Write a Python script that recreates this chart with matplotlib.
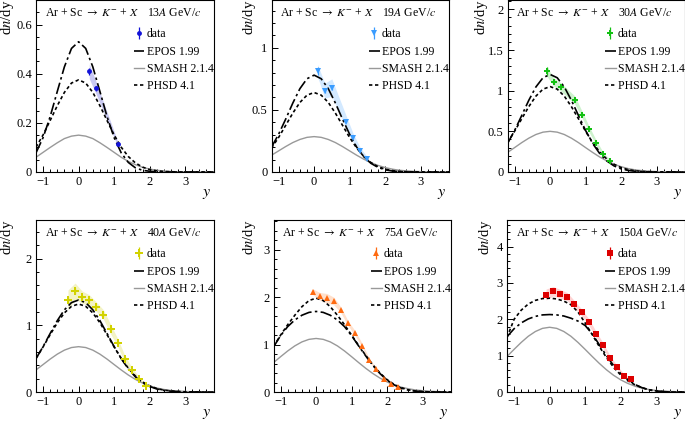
import matplotlib
matplotlib.use("Agg")
import matplotlib.pyplot as plt
from matplotlib.ticker import MultipleLocator, FuncFormatter

plt.rcParams['font.family'] = ['Liberation Serif', 'DejaVu Serif']
plt.rcParams['mathtext.fontset'] = 'stix'

# rapidity grid of the model curves
y_grid = [-1.2, -1.0, -0.8, -0.6, -0.4, -0.2, 0.0, 0.2, 0.4, 0.6, 0.8, 1.0, 1.2,
          1.4, 1.6, 1.8, 2.0, 2.2, 2.4, 2.6, 2.8, 3.0, 3.2, 3.4, 3.6, 3.8]

labels = ["13", "19", "30", "40", "75", "150"]

# 13A
x13 = [0.3, 0.5, 1.1]
d13 = [0.41, 0.34, 0.115]
stat13 = [0.015, 0.012, 0.006]
sys13 = [0.03, 0.025, 0.01]
epos13 = [.078, .140, .226, .328, .428, .503, .530, .503, .428, .328, .226, .140, .078,
          .039, .017, .007, .003, .001, 0, 0, 0, 0, 0, 0, 0, 0]
phsd13 = [.101, .151, .210, .270, .324, .362, .375, .362, .324, .270, .210, .151, .101,
          .063, .037, .020, .010, .005, .002, .001, 0, 0, 0, 0, 0, 0]
smash13 = [.060, .080, .100, .119, .136, .146, .150, .146, .136, .119, .100, .080, .060,
           .043, .030, .019, .012, .007, .004, .002, .001, 0, 0, 0, 0, 0]

# 19A
x19 = [0.1, 0.3, 0.5, 0.9, 1.1, 1.3, 1.5]
d19 = [0.815, 0.655, 0.68, 0.405, 0.275, 0.172, 0.105]
stat19 = [0.03, 0.02, 0.02, 0.01, 0.01, 0.008, 0.006]
sys19 = [0.05, 0.06, 0.07, 0.05, 0.035, 0.025, 0.015]
epos19 = [.200, .304, .426, .555, .671, .751, .780, .751, .671, .555, .426, .304, .200,
          .123, .070, .037, .018, .008, .003, .001, 0, 0, 0, 0, 0, 0]
phsd19 = [.193, .278, .376, .474, .560, .619, .640, .619, .560, .474, .376, .278, .193,
          .125, .076, .043, .023, .011, .005, .002, .001, 0, 0, 0, 0, 0]
smash19 = [.135, .170, .205, .237, .262, .279, .285, .279, .262, .237, .205, .170, .135,
           .103, .076, .053, .036, .023, .014, .009, .005, .003, .001, 0, 0, 0]

# 30A
x30 = [-0.1, 0.1, 0.3, 0.7, 0.9, 1.1, 1.3, 1.5, 1.7]
d30 = [1.244, 1.108, 1.047, 0.883, 0.707, 0.525, 0.36, 0.218, 0.132]
stat30 = [0.05, 0.02, 0.02, 0.02, 0.015, 0.015, 0.01, 0.01, 0.008]
sys30 = [0.06, 0.05, 0.05, 0.05, 0.04, 0.035, 0.03, 0.02, 0.015]
epos30 = [.350, .510, .694, .882, 1.046, 1.159, 1.200, 1.159, 1.046, .882, .694, .510, .350,
          .225, .135, .075, .039, .019, .009, .004, .001, 0, 0, 0, 0, 0]
phsd30 = [.361, .501, .654, .804, .933, 1.019, 1.050, 1.019, .933, .804, .654, .501, .361,
          .246, .158, .095, .054, .029, .015, .007, .003, .001, 0, 0, 0, 0]
smash30 = [.240, .300, .361, .416, .461, .490, .500, .490, .461, .416, .361, .300, .240,
           .184, .136, .096, .065, .042, .026, .016, .009, .005, .003, .001, 0, 0]

# 40A
x40 = [-0.3, -0.1, 0.1, 0.3, 0.5, 0.7, 0.9, 1.1, 1.3, 1.5, 1.7, 1.9]
d40 = [1.38, 1.515, 1.424, 1.379, 1.279, 1.162, 0.945, 0.742, 0.50, 0.329, 0.197, 0.09]
stat40 = [0.04, 0.04, 0.03, 0.03, 0.03, 0.03, 0.02, 0.02, 0.02, 0.015, 0.01, 0.01]
sys40 = [0.15, 0.12, 0.09, 0.08, 0.07, 0.07, 0.07, 0.06, 0.05, 0.04, 0.03, 0.02]
epos40 = [.501, .682, .879, 1.071, 1.233, 1.341, 1.380, 1.341, 1.233, 1.071, .879, .682, .501,
          .347, .227, .141, .083, .046, .024, .012, .006, .002, .001, 0, 0, 0]
phsd40 = [.505, .677, .861, 1.039, 1.187, 1.285, 1.320, 1.285, 1.187, 1.039, .861, .677, .505,
          .357, .239, .152, .092, .052, .028, .015, .007, .003, .001, 0, 0, 0]
smash40 = [.331, .412, .494, .568, .628, .667, .680, .667, .628, .568, .494, .412, .331,
           .255, .189, .135, .092, .060, .038, .023, .013, .008, .004, .002, .001, 0]

# 75A
x75 = [-0.1, 0.1, 0.3, 0.5, 0.7, 0.9, 1.1, 1.3, 1.5, 1.7, 1.9, 2.1, 2.3]
d75 = [2.12, 2.02, 1.98, 1.92, 1.73, 1.45, 1.24, 0.98, 0.67, 0.475, 0.28, 0.165, 0.10]
stat75 = [0.04, 0.03, 0.03, 0.03, 0.03, 0.03, 0.02, 0.02, 0.02, 0.015, 0.01, 0.01, 0.01]
sys75 = [0.06, 0.08, 0.10, 0.08, 0.06, 0.05, 0.05, 0.04, 0.03, 0.03, 0.02, 0.015, 0.01]
epos75 = [.95, 1.19, 1.38, 1.52, 1.62, 1.68, 1.70, 1.68, 1.62, 1.52, 1.38, 1.19, .97,
          .76, .56, .39, .25, .15, .08, .04, .018, .007, .002, 0, 0, 0]
phsd75 = [.96, 1.20, 1.42, 1.62, 1.80, 1.93, 1.98, 1.93, 1.80, 1.62, 1.42, 1.20, .98,
          .77, .57, .40, .26, .16, .09, .045, .02, .008, .003, 0, 0, 0]
smash75 = [.620, .745, .866, .973, 1.057, 1.111, 1.130, 1.111, 1.057, .973, .866, .745, .620,
           .499, .389, .293, .213, .150, .102, .068, .043, .027, .016, .009, .005, .003]

# 150A
x150 = [-0.1, 0.1, 0.3, 0.5, 0.7, 0.9, 1.1, 1.3, 1.5, 1.7, 1.9, 2.1, 2.3]
d150 = [2.68, 2.77, 2.70, 2.62, 2.41, 2.19, 1.93, 1.60, 1.29, 0.94, 0.68, 0.45, 0.35]
stat150 = [0.06, 0.05, 0.05, 0.05, 0.04, 0.04, 0.04, 0.03, 0.03, 0.03, 0.02, 0.02, 0.02]
sys150 = [0.15, 0.13, 0.12, 0.11, 0.10, 0.09, 0.09, 0.08, 0.07, 0.06, 0.05, 0.04, 0.03]
epos150 = [1.52, 1.74, 1.90, 2.01, 2.08, 2.12, 2.13, 2.12, 2.09, 2.03, 1.95, 1.83, 1.60,
           1.30, 1.00, .73, .51, .34, .21, .12, .06, .025, .01, 0, 0, 0]
phsd150 = [1.50, 2.00, 2.25, 2.42, 2.52, 2.57, 2.58, 2.56, 2.50, 2.40, 2.20, 1.90, 1.58,
           1.25, .95, .68, .47, .31, .20, .12, .06, .03, .01, 0, 0, 0]
smash150 = [.977, 1.173, 1.363, 1.533, 1.664, 1.750, 1.780, 1.750, 1.664, 1.533, 1.363, 1.173, .977,
            .787, .612, .461, .336, .237, .161, .106, .068, .042, .025, .014, .008, .004]

panels = [
    (x13, d13, stat13, sys13, epos13, smash13, phsd13),
    (x19, d19, stat19, sys19, epos19, smash19, phsd19),
    (x30, d30, stat30, sys30, epos30, smash30, phsd30),
    (x40, d40, stat40, sys40, epos40, smash40, phsd40),
    (x75, d75, stat75, sys75, epos75, smash75, phsd75),
    (x150, d150, stat150, sys150, epos150, smash150, phsd150),
]

colors = ['#1212d8', '#3a9cff', '#12c012', '#d2d200', '#ff6a10', '#dd0000']
bands = ['#c9c9f2', '#d3e9ff', '#cdf2cd', '#f3f3c4', '#ffe0cc', '#ffd2d2']
markers = ['o', 'v', 'P', 'P', '^', 's']
msizes = [3.5, 4, 5, 6, 4, 4.5]
ymax = [0.70, 1.385, 2.115, 2.58, 3.63, 4.73]
ymajor = [0.2, 0.5, 0.5, 1, 1, 1]
yminor = [0.05, 0.1, 0.1, 0.2, 0.2, 0.2]

# axes boxes in pixels: left, top ; y label offset in pixels
W, H = 685.0, 423.0
boxes = [(36, 0), (271.5, 0), (507.5, 0), (36, 220), (273.5, 220), (507, 220)]
ylab_dx = [-20, -14, -17, -20, -15, -13]
aw, ah = 177.5, 172.0

fig = plt.figure(figsize=(6.85, 4.23), dpi=100)

for i, (xd, yd, st, sy, ep, sm, ph) in enumerate(panels):
    l, t = boxes[i]
    ax = fig.add_axes([l / W, 1 - (t + ah) / H, aw / W, ah / H])

    lo = [v - e for v, e in zip(yd, sy)]
    hi = [v + e for v, e in zip(yd, sy)]
    ax.fill_between(xd, lo, hi, color=bands[i], lw=0, zorder=1)

    h_epos, = ax.plot(y_grid, ep, color='black', lw=1.2, ls=(0, (7, 2, 1.5, 2)), zorder=3)
    h_smash, = ax.plot(y_grid, sm, color='#999999', lw=1.0, zorder=2)
    h_phsd, = ax.plot(y_grid, ph, color='black', lw=1.2, ls=(0, (2, 1.6)), zorder=3)
    h_data = ax.errorbar(xd, yd, yerr=st, fmt=markers[i], color=colors[i], ms=msizes[i],
                         mew=0, elinewidth=0.9, capsize=1.5, zorder=4)

    ax.set_xlim(-1.2, 3.8)
    ax.set_ylim(0, ymax[i])
    ax.xaxis.set_major_locator(MultipleLocator(1))
    ax.xaxis.set_minor_locator(MultipleLocator(0.2))
    ax.yaxis.set_major_locator(MultipleLocator(ymajor[i]))
    ax.yaxis.set_minor_locator(MultipleLocator(yminor[i]))
    ax.yaxis.set_major_formatter(FuncFormatter(lambda v, p: '{:g}'.format(round(v, 3))))
    ax.xaxis.set_major_formatter(FuncFormatter(lambda v, p: '{:g}'.format(v).replace('-', '\u2212')))
    ax.tick_params(which='both', direction='in', labelsize=9, width=0.7, pad=3)
    ax.tick_params(which='major', length=4.5)
    ax.tick_params(which='minor', length=2.3)
    for s in ax.spines.values():
        s.set_linewidth(0.8)

    ax.text(0.05, 1 - 16 / ah, r'Ar + Sc $\rightarrow$ $K^{-}$ + $X$', transform=ax.transAxes,
            fontsize=8.5, va='baseline', ha='left')
    ax.text(0.625, 1 - 16 / ah, labels[i] + '$A$ GeV/$c$', transform=ax.transAxes,
            fontsize=8.5, va='baseline', ha='left')
    ax.text(0.985, -21 / ah, '$y$', transform=ax.transAxes, fontsize=11.5, ha='right', va='center')
    ax.set_ylabel('d$n$/dy', loc='top', fontsize=10.5)
    ax.yaxis.set_label_coords(ylab_dx[i] / aw, 1.0)

    ax.legend([h_data, h_epos, h_smash, h_phsd], ['data', 'EPOS 1.99', 'SMASH 2.1.4', 'PHSD 4.1'],
              loc='upper left', bbox_to_anchor=(0.55, 0.835), frameon=False, fontsize=8.5,
              handlelength=0.9, handletextpad=0.2, labelspacing=0.45, borderpad=0, borderaxespad=0)

fig.savefig('out.png', dpi=100)
